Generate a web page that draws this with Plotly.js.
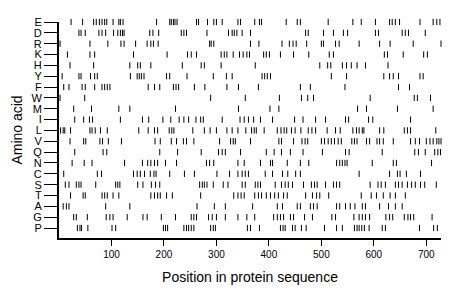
<!DOCTYPE html>
<html>
<head>
<meta charset="utf-8">
<script src="https://cdn.plot.ly/plotly-3.0.1.min.js"></script>
<style>html,body{margin:0;padding:0;background:#fff;}#chart{width:460px;height:299px;}</style>
</head>
<body>
<div id="chart"></div>
<script>
// Amino acids, top to bottom as in the chart
const aminoAcids = ["E","D","R","K","H","Y","F","W","M","I","L","V","Q","N","C","S","T","A","G","P"];

// Positions (residue index) of each amino acid in the protein sequence
const posE = [23,45,66,71,77,82,87,91,103,114,117,122,186,211,214,218,221,225,262,266,283,295,300,311,341,346,373,382,386,433,454,460,513,560,576,603,630,635,641,649,688,713,720,726];
const posD = [38,42,50,76,82,89,104,112,117,121,124,173,179,190,233,238,243,282,323,330,334,339,349,365,470,475,504,523,542,550,603,609,654,660,666,698];
const posR = [2,59,93,118,124,146,168,175,180,189,287,290,295,365,381,425,439,446,452,472,500,504,527,534,572,611,631,675,728];
const posK = [16,59,68,142,206,245,252,262,309,315,320,332,344,351,358,363,390,395,401,422,447,476,515,523,620,626,656,695,702];
const posH = [21,66,135,150,155,175,235,271,277,309,374,497,512,518,540,548,557,568,584,627];
const posY = [6,38,42,60,68,73,136,149,153,157,162,205,211,244,294,319,330,387,392,397,403,519,548,619,630,637,647,688,694];
const posF = [9,19,44,50,68,82,87,92,97,170,182,192,218,223,228,258,278,320,342,380,460,479,545,647,668];
const posW = [2,49,289,355,420,462,474,485,593,677,683,708];
const posM = [28,62,114,135,222,342,402,419,569,586,645,713];
const posI = [30,47,58,64,117,159,171,198,213,229,238,247,261,270,275,311,345,353,361,371,384,407,449,465,489,508,546,552,590,598,670];
const posL = [3,8,11,22,59,63,69,79,92,152,170,182,188,210,215,219,255,277,288,300,320,330,341,356,367,372,376,391,416,423,429,434,443,450,461,475,482,489,511,527,536,560,567,572,578,581,611,619,658,664,670,718];
const posV = [21,47,51,78,83,94,119,183,193,214,224,237,243,257,306,327,332,336,365,419,424,447,463,469,474,500,506,513,519,525,532,538,558,563,568,586,592,606,611,618,637,670,679,687,700,707,713,720,724,728];
const posQ = [30,84,91,192,226,271,304,311,317,346,395,410,424,441,465,502,546,553,616,678,685,698,716,722,727];
const posN = [25,48,63,125,159,169,175,182,188,203,224,281,287,295,341,353,384,403,407,435,460,476,529,535,540,545,549,597,637,643,710];
const posC = [9,73,81,142,149,155,163,174,181,185,211,239,258,301,325,341,349,355,361,393,407,426,436,451,460,572,630,645,650,662,689];
const posS = [12,19,33,38,42,70,108,112,116,150,160,176,184,192,268,273,277,282,294,313,322,349,355,374,379,384,412,424,431,437,445,466,481,487,492,508,523,529,535,593,608,614,622,641,647,654,664,672,679,689,697,719];
const posT = [22,46,50,82,87,92,103,114,175,182,188,193,205,216,270,333,341,347,353,373,380,386,395,403,411,418,428,435,470,483,491,497,514,576,595,605,618,631,641,660];
const posA = [8,14,19,89,135,263,296,317,369,416,426,454,460,479,485,492,529,535,546,555,564,578,584,611,628,641,654];
const posG = [28,33,54,90,97,103,130,160,168,195,222,252,257,262,285,292,300,317,341,358,373,409,416,422,428,441,447,468,483,520,527,562,572,578,584,592,623,630,636,658,665,670,676,711];
const posP = [35,40,43,55,101,108,199,203,207,238,243,247,252,257,289,294,298,359,365,382,422,427,431,445,450,462,471,506,529,540,563,568,572,577,582,591,616,622,687,714,721];

const positionsByAA = [posE,posD,posR,posK,posH,posY,posF,posW,posM,posI,posL,posV,posQ,posN,posC,posS,posT,posA,posG,posP];

const xTickVals = [100,200,300,400,500,600,700];

const n = aminoAcids.length;
const xs = [], ys = [];
positionsByAA.forEach((arr, i) => {
  const row = n - 1 - i;
  arr.forEach(p => { xs.push(p); ys.push(row); });
});

const trace = {
  type: 'scatter', mode: 'markers', x: xs, y: ys, cliponaxis: false,
  marker: {symbol: 'line-ns-open', size: 4.5, color: '#000', line: {color: '#000', width: 1}},
  hoverinfo: 'skip', showlegend: false
};

const font = 'Liberation Sans, Arial, sans-serif';
const layout = {
  width: 460, height: 299,
  margin: {l: 59, r: 19, t: 22, b: 61},
  paper_bgcolor: '#fff', plot_bgcolor: '#fff',
  font: {family: font, color: '#000'},
  xaxis: {
    range: [0, 728], showgrid: false, zeroline: false,
    showline: true, linecolor: '#000', linewidth: 2,
    ticks: 'outside', ticklen: 6, tickwidth: 1, tickcolor: '#000',
    tickvals: xTickVals, ticktext: xTickVals.map(String),
    tickfont: {size: 10, family: font},
    title: {text: 'Position in protein sequence', font: {size: 14, family: font}, standoff: 13},
    automargin: false, fixedrange: true
  },
  yaxis: {
    range: [-0.92, 19], showgrid: false, zeroline: false,
    showline: true, linecolor: '#000', linewidth: 2,
    ticks: 'outside', ticklen: 13, tickwidth: 1, tickcolor: '#000',
    tickvals: aminoAcids.map((_, i) => n - 1 - i), ticktext: aminoAcids,
    tickfont: {size: 11, family: font},
    title: {text: 'Amino acid', font: {size: 14, family: font}, standoff: 6},
    automargin: false, fixedrange: true
  }
};

Plotly.newPlot('chart', [trace], layout, {staticPlot: true, displayModeBar: false});
</script>
</body>
</html>
